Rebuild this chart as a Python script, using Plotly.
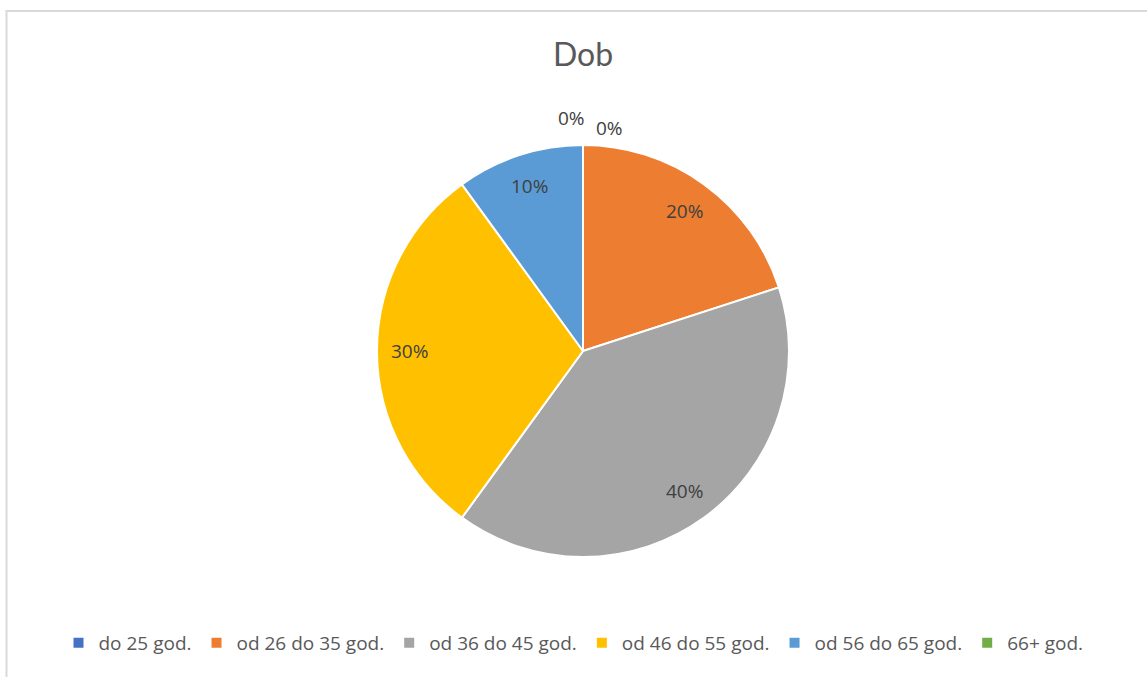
import math
import plotly.graph_objects as go

# Age groups and their shares (%)
categories = ['do 25 god.', 'od 26 do 35 god.', 'od 36 do 45 god.',
              'od 46 do 55 god.', 'od 56 do 65 god.', '66+ god.']
shares = [0, 20, 40, 30, 10, 0]
colors = ['#4472C4', '#ED7D31', '#A5A5A5', '#FFC000', '#5B9BD5', '#70AD47']

W, H = 1147, 677
FONT = 'Open Sans'
LABEL_COLOR = '#404040'

# pie geometry (pixels)
cx, cy, R = 583, 351, 206

fig = go.Figure()

fig.add_trace(go.Pie(
    labels=categories,
    values=shares,
    sort=False,
    direction='clockwise',
    rotation=0,
    marker=dict(colors=colors, line=dict(color='white', width=2)),
    textinfo='none',
    domain=dict(x=[(cx - 250) / W, (cx + 250) / W], y=[1 - (cy + R) / H, 1 - (cy - R) / H]),
    hoverinfo='label+percent',
))

# data labels like Excel's "best fit": near the rim, at the slice's mid angle
total = sum(shares)
start = 0
for i, v in enumerate(shares):
    if v > 0:
        mid = (start + v / 2) / total * 2 * math.pi
        x = cx + 0.84 * R * math.sin(mid)
        y = cy - 0.84 * R * math.cos(mid)
        fig.add_annotation(
            x=x / W, y=1 - y / H, xref='paper', yref='paper',
            xanchor='center', yanchor='middle',
            text=f'{round(v / total * 100)}%', showarrow=False,
            font=dict(family=FONT, size=19, color=LABEL_COLOR),
        )
    start += v

# Excel still prints labels for the empty slices, just above the top of the pie
zero_pos = {0: (609, 128), 5: (571, 118)}
for i, (px_x, px_y) in zero_pos.items():
    fig.add_annotation(
        x=px_x / W, y=1 - px_y / H, xref='paper', yref='paper',
        xanchor='center', yanchor='middle',
        text=f'{shares[i]}%', showarrow=False,
        font=dict(family=FONT, size=19, color=LABEL_COLOR),
    )

# light chart-area border (left and top edges visible in the reference)
fig.add_shape(
    type='rect', xref='paper', yref='paper',
    x0=6.5 / W, x1=1.05, y0=-0.05, y1=1 - 11 / H,
    line=dict(color='#D9D9D9', width=2), layer='below',
)

fig.update_layout(
    width=W, height=H,
    margin=dict(l=0, r=0, t=0, b=0),
    paper_bgcolor='white',
    plot_bgcolor='white',
    title=dict(text='Dob', x=cx / W, xanchor='center', y=1 - 55 / H, yanchor='middle',
               font=dict(family='Lato', size=32, color='#595959')),
    showlegend=True,
    legend=dict(
        orientation='h', x=0.5, xanchor='center', y=1 - 643 / H, yanchor='middle',
        font=dict(family=FONT, size=19, color='#595959'),
        traceorder='normal', itemwidth=30,
    ),
    font=dict(family=FONT, color='#595959'),
)

fig.write_html('out.html', config={'displayModeBar': False},
               post_script="document.body.style.margin='0px';")
